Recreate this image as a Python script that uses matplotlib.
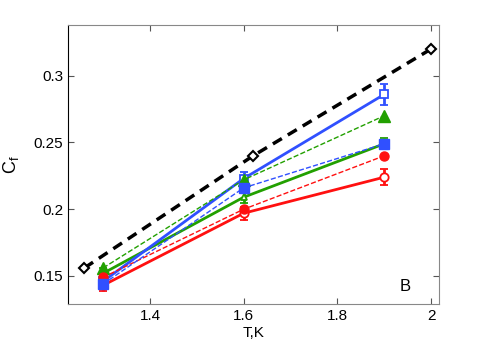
import numpy as np
import matplotlib.pyplot as plt

plt.rcParams['font.family'] = ['Liberation Sans', 'DejaVu Sans']

T = [1.3, 1.6, 1.9]
T_ref = [1.26, 1.62, 2.0]
cf_ref = [0.156, 0.240, 0.320]

blue_solid = [0.146, 0.223, 0.286]
blue_solid_err = [0.004, 0.005, 0.008]
blue_dash = [0.144, 0.216, 0.249]

green_solid = [0.152, 0.209, 0.249]
green_solid_err = [0.004, 0.004, 0.004]
green_dash = [0.156, 0.222, 0.270]

red_solid = [0.143, 0.197, 0.224]
red_solid_err = [0.004, 0.005, 0.006]
red_dash = [0.149, 0.200, 0.240]

blue = '#3050ff'
green = '#22a000'
red = '#ff1010'

fig = plt.figure(figsize=(4.85, 3.45), dpi=100)
ax = fig.add_axes([68/485, 41/345, 371/485, 279/345])

ax.plot(T_ref, cf_ref, 'k--', lw=2.5, marker='D', ms=5, mfc='white', mec='black', mew=1.5, zorder=6, dashes=(3, 2))

ax.errorbar(T, green_solid, yerr=green_solid_err, color=green, lw=2, marker='^', ms=5,
            mfc='white', mec=green, mew=1.3, capsize=3, zorder=3)
ax.errorbar(T, red_solid, yerr=red_solid_err, color=red, lw=2, marker='o', ms=6,
            mfc='white', mec=red, mew=1.3, capsize=3, zorder=3)
ax.errorbar(T, blue_solid, yerr=blue_solid_err, color=blue, lw=2, marker='s', ms=6,
            mfc='white', mec=blue, mew=1.3, capsize=3, zorder=3)

ax.plot(T, green_dash, '--', color=green, lw=1, marker='^', ms=8, mfc=green, mec=green, zorder=4)
ax.plot(T, red_dash, '--', color=red, lw=1, marker='o', ms=6.5, mfc=red, mec=red, zorder=4)
ax.plot(T, blue_dash, '--', color=blue, lw=1, marker='s', ms=6.5, mfc=blue, mec=blue, zorder=5)

ax.set_xlim(1.225, 2.017)
ax.set_ylim(0.129, 0.338)
ax.set_xticks([1.4, 1.6, 1.8, 2.0])
ax.set_xticklabels(['1.4', '1.6', '1.8', '2'])
ax.set_yticks([0.15, 0.2, 0.25, 0.3])
ax.set_yticklabels(['0.15', '0.2', '0.25', '0.3'])
ax.tick_params(direction='in', top=True, right=True, length=4, labelsize=11, width=0.8, colors='#555555', labelcolor='black')

for s in ['top', 'right', 'bottom']:
    ax.spines[s].set_color('#888888')
ax.spines['left'].set_color('black')

ax.set_xlabel('T,K', fontsize=11, labelpad=2)
ax.set_ylabel('C$_\\mathregular{f}$', fontsize=13, labelpad=9)
ax.text(1.945, 0.142, 'B', fontsize=12, ha='center', va='center')

fig.savefig('out.png', dpi=100)
